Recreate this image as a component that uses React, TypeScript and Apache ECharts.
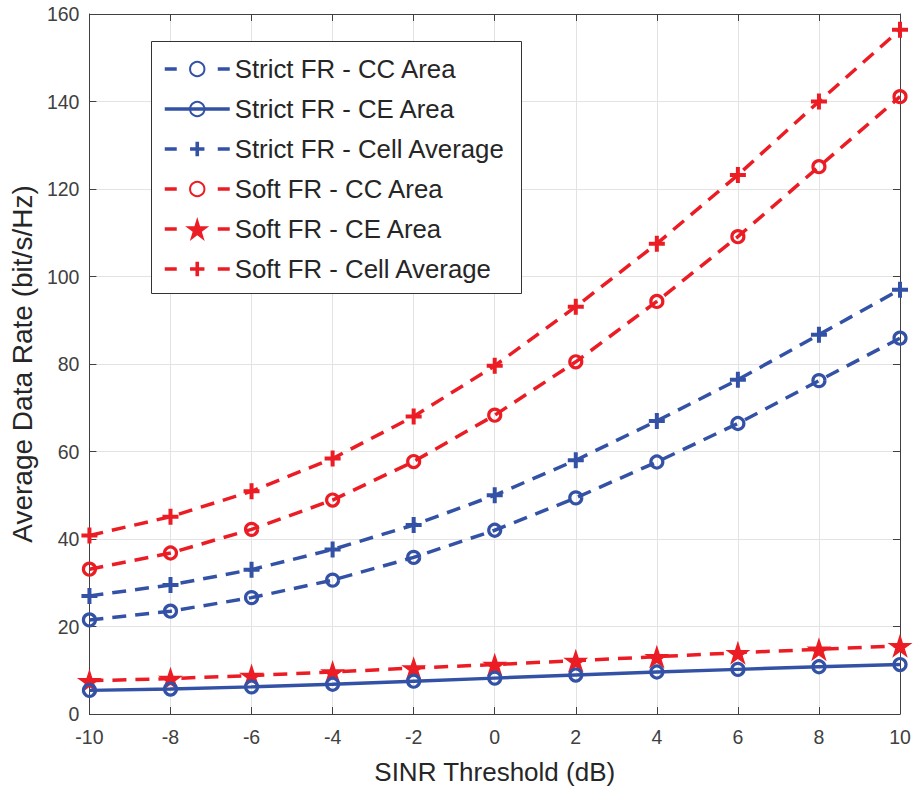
import React, { useEffect, useRef } from "react";
import * as echarts from "echarts";

const xValues = [-10, -8, -6, -4, -2, 0, 2, 4, 6, 8, 10];
const strictCC = [21.5, 23.5, 26.6, 30.6, 35.8, 42, 49.4, 57.6, 66.4, 76.2, 85.9];
const strictCE = [5.4, 5.7, 6.2, 6.8, 7.5, 8.2, 8.9, 9.6, 10.2, 10.8, 11.3];
const strictAvg = [27, 29.5, 33, 37.6, 43.2, 50, 58, 67, 76.4, 86.7, 97];
const softCC = [33.1, 36.8, 42.2, 48.9, 57.7, 68.3, 80.5, 94.3, 109.1, 125.1, 141.1];
const softCE = [7.6, 8.1, 8.8, 9.6, 10.5, 11.3, 12.2, 13.1, 14, 14.8, 15.6];
const softAvg = [40.8, 45.1, 50.9, 58.4, 68, 79.6, 93.1, 107.5, 123.2, 140, 156.4];

const seriesNames = [
  "Strict FR - CC Area",
  "Strict FR - CE Area",
  "Strict FR - Cell Average",
  "Soft FR - CC Area",
  "Soft FR - CE Area",
  "Soft FR - Cell Average",
];

const BLUE = "#3352A6";
const RED = "#EC1C24";
const FONT = "'Liberation Sans', Arial, sans-serif";

const PLUS = "path://M6,0H10V6H16V10H10V16H6V10H0V6H6Z";
const STAR =
  "path://M50,0L61.23,34.55L97.55,34.55L68.17,55.9L79.39,90.45L50,69.1L20.61,90.45L31.83,55.9L2.45,34.55L38.77,34.55Z";

function pairs(ys: number[]) {
  return xValues.map((x, i) => [x, ys[i]]);
}

export default function App() {
  const ref = useRef<HTMLDivElement>(null);

  useEffect(() => {
    if (!ref.current) return;
    const chart = echarts.init(ref.current, undefined, { renderer: "svg" });

    const dash = [14, 9];
    const mk = (
      name: string,
      ys: number[],
      color: string,
      symbol: string,
      size: number,
      solid: boolean,
      filled: boolean,
      z: number
    ) => ({
      name,
      type: "line",
      data: pairs(ys),
      symbol,
      symbolSize: size,
      symbolKeepAspect: true,
      showAllSymbol: true,
      z,
      lineStyle: { color, width: 3.5, type: solid ? "solid" : dash },
      itemStyle: filled
        ? { color, borderColor: color, borderWidth: 0 }
        : { color: "rgba(255,255,255,0)", borderColor: color, borderWidth: 3.2 },
      emphasis: { disabled: true },
    });

    const rowCenters = [69, 109, 149, 189, 229, 269];
    const legendHeights = [18, 18, 18, 18, 30, 18];
    const legendSolid = [false, true, false, false, false, false];
    const legends = seriesNames.map((name, i) => ({
      orient: "vertical",
      left: 163,
      top: rowCenters[i] - 14,
      padding: 0,
      itemGap: 0,
      itemWidth: 65,
      itemHeight: legendHeights[i],
      z: 8,
      lineStyle: { width: 3.5, type: legendSolid[i] ? "solid" : [12, 41] },
      selectedMode: false,
      textStyle: { fontSize: 25.8, lineHeight: 28, color: "#262626", fontFamily: FONT },
      data: [name],
    }));

    const axisLineStyle = { color: "#404040", width: 1 };
    const option: any = {
      animation: false,
      backgroundColor: "#ffffff",
      textStyle: { fontFamily: FONT },
      grid: { left: 85, right: 14, top: 14, bottom: 77, containLabel: false },
      graphic: [
        {
          type: "rect",
          left: 151,
          top: 41,
          z: 7,
          shape: { x: 0, y: 0, width: 370, height: 252 },
          style: { fill: "#ffffff", stroke: "#333333", lineWidth: 1 },
          silent: true,
        },
      ],
      legend: legends,
      xAxis: [
        {
          type: "value",
          position: "bottom",
          min: -10,
          max: 10,
          interval: 2,
          name: "SINR Threshold (dB)",
          nameLocation: "middle",
          nameGap: 45,
          nameTextStyle: { fontSize: 26, color: "#262626", fontFamily: FONT },
          axisLine: { show: true, onZero: false, lineStyle: axisLineStyle },
          axisTick: { show: true, inside: true, length: 7, lineStyle: axisLineStyle },
          axisLabel: { fontSize: 19.5, color: "#404040", margin: 13, fontFamily: FONT },
          splitLine: { show: true, lineStyle: { color: "#e3e3e3", width: 1 } },
        },
        {
          type: "value",
          position: "top",
          min: -10,
          max: 10,
          interval: 2,
          axisLine: { show: true, onZero: false, lineStyle: axisLineStyle },
          axisTick: { show: true, inside: true, length: 7, lineStyle: axisLineStyle },
          axisLabel: { show: false },
          splitLine: { show: false },
        },
      ],
      yAxis: [
        {
          type: "value",
          position: "left",
          min: 0,
          max: 160,
          interval: 20,
          name: "Average Data Rate (bit/s/Hz)",
          nameLocation: "middle",
          nameGap: 48,
          nameTextStyle: { fontSize: 28, color: "#262626", fontFamily: FONT },
          axisLine: { show: true, onZero: false, lineStyle: axisLineStyle },
          axisTick: { show: true, inside: true, length: 7, lineStyle: axisLineStyle },
          axisLabel: { fontSize: 19.5, color: "#404040", margin: 10, fontFamily: FONT },
          splitLine: { show: true, lineStyle: { color: "#e3e3e3", width: 1 } },
        },
        {
          type: "value",
          position: "right",
          min: 0,
          max: 160,
          interval: 20,
          axisLine: { show: true, onZero: false, lineStyle: axisLineStyle },
          axisTick: { show: true, inside: true, length: 7, lineStyle: axisLineStyle },
          axisLabel: { show: false },
          splitLine: { show: false },
        },
      ],
      series: [
        mk(seriesNames[0], strictCC, BLUE, "circle", 12, false, false, 3),
        mk(seriesNames[1], strictCE, BLUE, "circle", 12, true, false, 6),
        mk(seriesNames[2], strictAvg, BLUE, PLUS, 16, false, true, 3),
        mk(seriesNames[3], softCC, RED, "circle", 12, false, false, 3),
        mk(seriesNames[4], softCE, RED, STAR, 25, false, true, 4),
        mk(seriesNames[5], softAvg, RED, PLUS, 16, false, true, 3),
      ],
    };

    chart.setOption(option);
    return () => chart.dispose();
  }, []);

  return (
    <div
      ref={ref}
      style={{ position: "fixed", left: 0, top: 0, width: 914, height: 791, background: "#fff" }}
    />
  );
}
